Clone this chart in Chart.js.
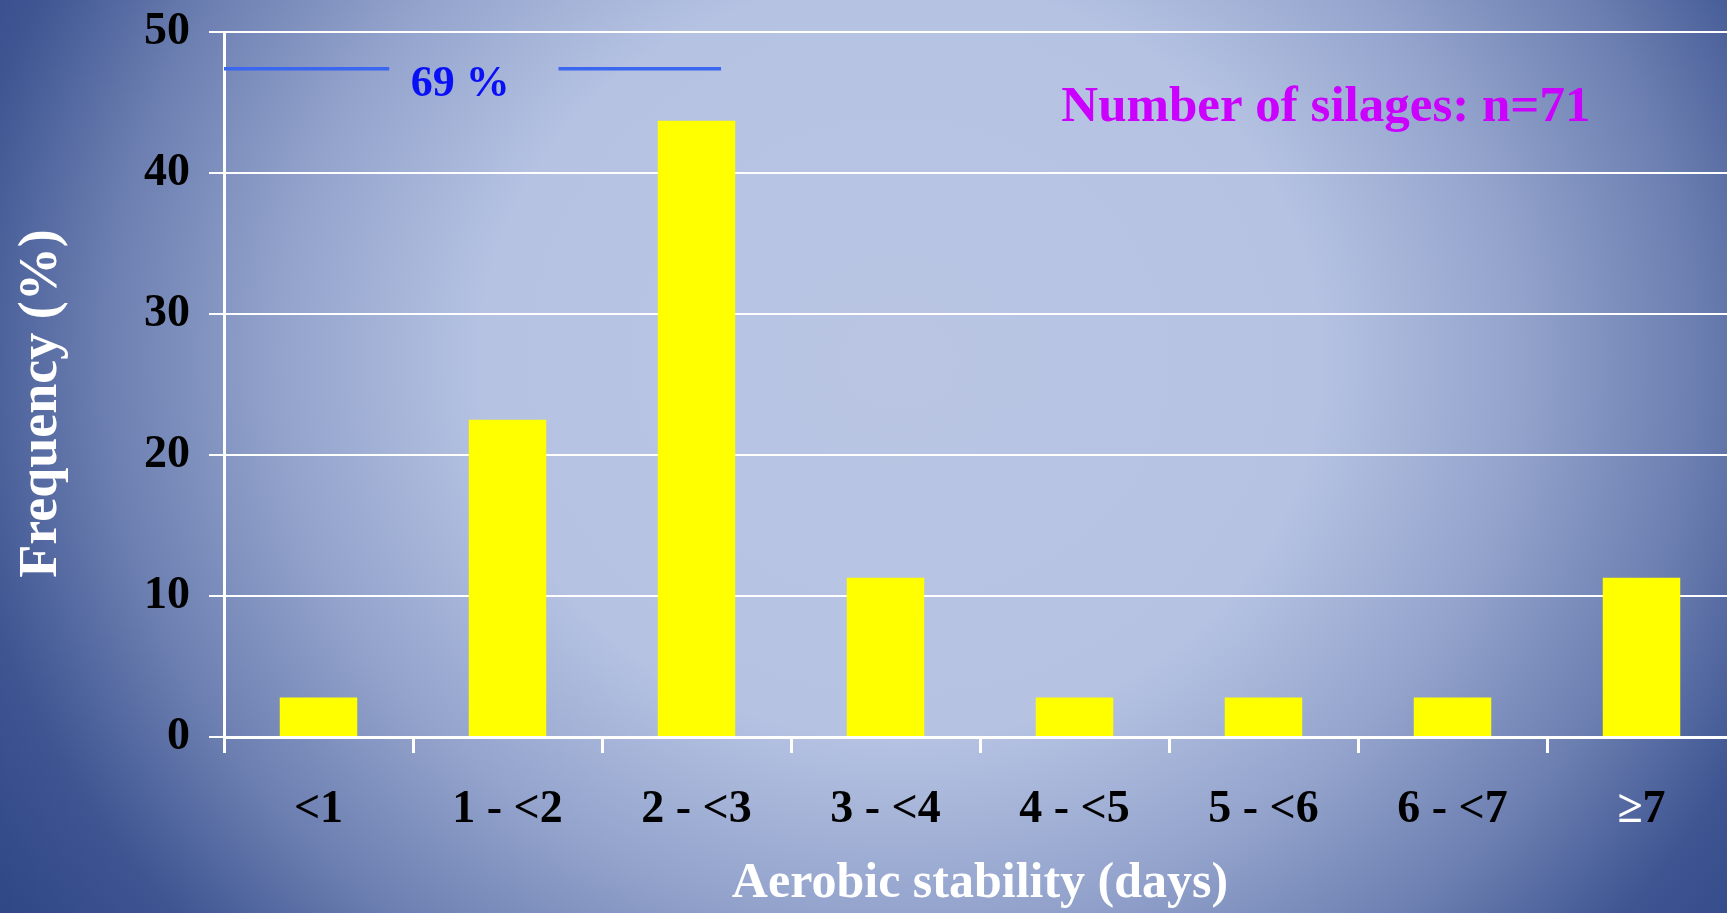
<!DOCTYPE html>
<html>
<head>
<meta charset="utf-8">
<script src="https://cdn.jsdelivr.net/npm/chart.js@4"></script>
<style>
  html, body {
    margin: 0;
    padding: 0;
    width: 1727px;
    height: 913px;
    overflow: hidden;
    background: radial-gradient(ellipse 1000px 900px at 900px 360px,
      #b9c5e3 0%, #b5c2e2 42%, #93a3cc 62%, #6b7eb0 80%, #3e5592 95%, #2f4685 110%);
  }
  #wrap {
    position: absolute;
    left: 0;
    top: 0;
    width: 1740px;
    height: 913px;
  }
</style>
</head>
<body>
<div id="wrap"><canvas id="stability-chart"></canvas></div>
<script>
const categories = ["<1", "1 - <2", "2 - <3", "3 - <4", "4 - <5", "5 - <6", "6 - <7", "\u22657"];
const frequency = [2.8, 22.5, 43.7, 11.3, 2.8, 2.8, 2.8, 11.3];
const yRange = [0, 50];
const yStep = 10;

// bracket "69 %" over the first categories (x in category index units, y in %)
const bracketLeft = [-0.5, 0.374];
const bracketRight = [1.27, 2.13];
const bracketY = 47.4;
const bracketLabel = "69 %";
const bracketLabelPos = [0.75, 46.3];

const noteLabel = "Number of silages: n=71";
const notePos = [5.33, 44.6];

const yTitle = "Frequency (%)";

const serif = "'Liberation Serif', 'Times New Roman', serif";
const tickFont = { family: serif, size: 46, weight: "bold" };
const titleFont = { family: serif, size: 50, weight: "bold", lineHeight: 1 };

// the last label has a white "≥" and a black "7"
const lastIdx = categories.length - 1;

const annotations = {
  id: "annotations",
  afterDraw(chart) {
    const { ctx, scales, chartArea } = chart;
    const x = scales.x;
    const y = scales.y;
    ctx.save();
    ctx.strokeStyle = "#3a66f0";
    ctx.lineWidth = 3.5;
    ctx.beginPath();
    ctx.moveTo(x.getPixelForValue(bracketLeft[0]), y.getPixelForValue(bracketY));
    ctx.lineTo(x.getPixelForValue(bracketLeft[1]), y.getPixelForValue(bracketY));
    ctx.moveTo(x.getPixelForValue(bracketRight[0]), y.getPixelForValue(bracketY));
    ctx.lineTo(x.getPixelForValue(bracketRight[1]), y.getPixelForValue(bracketY));
    ctx.stroke();

    ctx.textAlign = "center";
    ctx.textBaseline = "middle";
    ctx.fillStyle = "#0a10f5";
    ctx.font = "bold 44px " + serif;
    ctx.fillText(bracketLabel, x.getPixelForValue(bracketLabelPos[0]), y.getPixelForValue(bracketLabelPos[1]));

    ctx.fillStyle = "#cc00ff";
    ctx.font = "bold 51px " + serif;
    ctx.fillText(noteLabel, x.getPixelForValue(notePos[0]), y.getPixelForValue(notePos[1]));

    // last category label in two colours
    const item = x.getLabelItems()[lastIdx];
    if (item) {
      const [tx, ty] = item.options.translation;
      ctx.font = "bold " + tickFont.size + "px " + serif;
      ctx.textAlign = "left";
      ctx.textBaseline = item.options.textBaseline;
      const text = String(item.label);
      const start = tx - ctx.measureText(text).width / 2;
      ctx.fillStyle = "#ffffff";
      ctx.fillText(text.charAt(0), start, ty + item.textOffset);
      ctx.fillStyle = "#000000";
      ctx.fillText(text.slice(1), start + ctx.measureText(text.charAt(0)).width, ty + item.textOffset);
    }

    // y axis title, sitting a little below the middle of the plot
    ctx.textAlign = "center";
    ctx.textBaseline = "middle";
    ctx.translate(42, (chartArea.top + chartArea.bottom) / 2 + 19);
    ctx.rotate(-Math.PI / 2);
    ctx.fillStyle = "#ffffff";
    ctx.font = "bold 54px " + serif;
    ctx.fillText(yTitle, 0, 0);
    ctx.restore();
  },
};

document.addEventListener("DOMContentLoaded", () => {
  new Chart(document.getElementById("stability-chart"), {
    type: "bar",
    data: {
      labels: categories,
      datasets: [
        {
          label: "Frequency",
          data: frequency,
          backgroundColor: "#ffff00",
          borderWidth: 0,
          barPercentage: 0.41,
          categoryPercentage: 1,
        },
      ],
    },
    options: {
      responsive: true,
      maintainAspectRatio: false,
      animation: false,
      layout: { padding: { top: 32, right: 4, left: 0, bottom: 0 } },
      plugins: {
        legend: { display: false },
        tooltip: { enabled: false },
      },
      scales: {
        x: {
          offset: true,
          afterFit: (scale) => {
            scale.height = 176;
            scale.paddingLeft = 0;
            scale.paddingRight = 0;
          },
          border: { color: "#ffffff", width: 3 },
          grid: {
            offset: true,
            drawOnChartArea: false,
            drawTicks: true,
            tickLength: 16,
            color: "#ffffff",
            lineWidth: 3,
          },
          ticks: {
            color: (c) => (c.index === lastIdx ? "rgba(0,0,0,0)" : "#000000"),
            font: tickFont,
            padding: 30,
            maxRotation: 0,
            autoSkip: false,
          },
          title: {
            display: true,
            text: "Aerobic stability (days)",
            color: "#ffffff",
            font: titleFont,
            padding: { top: 0, bottom: 4 },
          },
        },
        y: {
          min: yRange[0],
          max: yRange[1],
          afterFit: (scale) => {
            scale.width = 224;
            scale.paddingTop = 0;
            scale.paddingBottom = 0;
          },
          border: { color: "#ffffff", width: 3 },
          grid: {
            color: "#ffffff",
            lineWidth: 2,
            drawTicks: true,
            tickLength: 15,
          },
          ticks: {
            stepSize: yStep,
            color: "#000000",
            font: tickFont,
            padding: 19,
          },
        },
      },
    },
    plugins: [annotations],
  });
});
</script>
</body>
</html>
